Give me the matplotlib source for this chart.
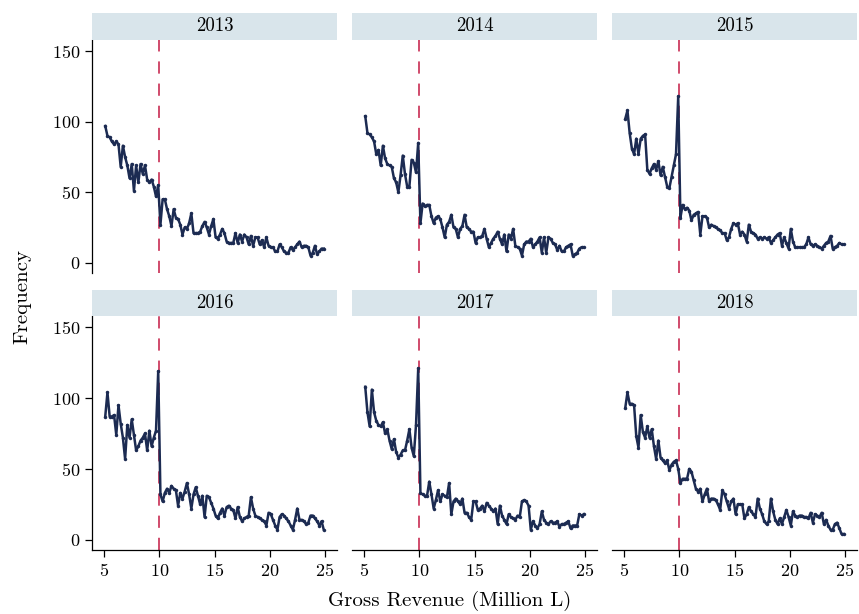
import numpy as np
import matplotlib
matplotlib.use("Agg")
import matplotlib.pyplot as plt
from matplotlib.patches import Rectangle

plt.rcParams["font.family"] = ["cmr10", "DejaVu Serif"]
plt.rcParams["mathtext.fontset"] = "cm"
plt.rcParams["axes.formatter.use_mathtext"] = True

# Bin midpoints of gross revenue (million L), 0.2-wide bins from 5 to 25
revenue = np.round(np.arange(5.1, 25.0, 0.2), 1)

years = [2013, 2014, 2015, 2016, 2017, 2018]

freq_2013 = [97, 90, 89, 86, 84, 86, 84, 68, 83, 75, 69, 60, 70, 51, 69, 57, 70, 63, 69, 59, 57, 59, 54, 47, 55,
             27, 45, 45, 38, 33, 26, 38, 32, 31, 27, 20, 25, 24, 28, 35, 21, 21, 21, 22, 26, 29, 25, 20, 26, 31,
             18, 17, 20, 24, 21, 15, 14, 14, 14, 21, 14, 20, 15, 20, 18, 13, 19, 12, 18, 18, 13, 16, 11, 18, 12,
             11, 11, 8, 8, 13, 11, 8, 7, 7, 11, 9, 11, 13, 15, 11, 12, 12, 11, 5, 7, 12, 6, 8, 10, 10]
freq_2014 = [104, 92, 91, 89, 86, 77, 80, 69, 83, 74, 70, 69, 68, 60, 57, 50, 62, 76, 63, 54, 54, 73, 71, 64, 85,
             28, 42, 40, 41, 41, 33, 28, 32, 33, 31, 25, 18, 27, 29, 34, 25, 24, 18, 24, 26, 34, 25, 24, 22, 22,
             14, 18, 18, 19, 24, 17, 11, 14, 17, 19, 22, 17, 13, 20, 8, 20, 17, 24, 12, 11, 10, 5, 13, 15, 15,
             17, 11, 13, 15, 18, 7, 18, 7, 18, 17, 14, 13, 9, 12, 8, 8, 11, 12, 13, 5, 6, 7, 10, 11, 11]
freq_2015 = [102, 108, 92, 81, 77, 88, 77, 88, 90, 91, 66, 63, 67, 70, 66, 72, 62, 68, 61, 54, 53, 61, 69, 77, 118,
             32, 41, 38, 39, 37, 30, 34, 35, 36, 20, 33, 33, 32, 25, 27, 26, 25, 24, 23, 21, 21, 16, 18, 24, 28,
             27, 28, 20, 22, 20, 15, 27, 22, 21, 20, 17, 18, 17, 18, 17, 18, 14, 16, 18, 20, 21, 12, 18, 14, 10,
             24, 15, 11, 11, 11, 11, 11, 13, 18, 13, 12, 13, 12, 11, 10, 12, 14, 15, 19, 10, 11, 12, 14, 13, 13]
freq_2016 = [87, 104, 87, 87, 88, 74, 95, 82, 72, 57, 81, 72, 85, 74, 63, 66, 70, 72, 75, 63, 77, 66, 72, 77, 119,
             32, 27, 33, 36, 33, 38, 36, 35, 24, 33, 29, 34, 40, 32, 22, 32, 37, 31, 25, 31, 16, 31, 30, 26, 22,
             17, 15, 19, 22, 17, 23, 24, 22, 21, 15, 23, 16, 13, 15, 16, 17, 30, 22, 17, 16, 15, 14, 13, 10, 19,
             18, 14, 10, 7, 16, 18, 17, 15, 13, 10, 7, 14, 22, 14, 14, 13, 11, 12, 17, 17, 15, 13, 10, 13, 7]
freq_2017 = [108, 90, 80, 106, 90, 84, 81, 80, 83, 75, 78, 70, 64, 71, 62, 58, 60, 63, 63, 70, 78, 65, 59, 81, 121,
             33, 32, 31, 31, 41, 32, 22, 28, 35, 27, 32, 31, 30, 40, 18, 27, 29, 27, 25, 29, 19, 19, 16, 14, 27,
             27, 21, 22, 24, 20, 26, 24, 22, 20, 22, 11, 24, 17, 14, 11, 18, 16, 15, 14, 17, 16, 27, 28, 27, 24,
             7, 13, 10, 8, 11, 20, 14, 12, 11, 13, 12, 12, 13, 9, 11, 11, 12, 13, 8, 10, 10, 10, 18, 17, 18]
freq_2018 = [93, 104, 96, 96, 95, 73, 65, 88, 76, 72, 80, 72, 78, 66, 57, 70, 58, 56, 54, 56, 49, 53, 55, 56, 50,
             40, 43, 43, 43, 50, 48, 42, 36, 34, 36, 27, 32, 36, 27, 29, 29, 28, 25, 21, 35, 32, 27, 22, 27, 29,
             18, 25, 25, 25, 15, 18, 23, 20, 18, 16, 29, 22, 18, 13, 11, 13, 29, 20, 14, 11, 15, 11, 16, 21, 16,
             10, 20, 17, 16, 17, 17, 16, 16, 15, 19, 12, 18, 17, 16, 19, 11, 14, 10, 7, 7, 11, 12, 8, 4, 4]

series = [freq_2013, freq_2014, freq_2015, freq_2016, freq_2017, freq_2018]

threshold = 10
x_ticks = [5, 10, 15, 20, 25]
y_ticks = [0, 50, 100, 150]

LINE_COLOR = "#1c2b52"
CUTOFF_COLOR = "#c41a44"
STRIP_COLOR = "#d9e5eb"

W, H = 859, 614
fig = plt.figure(figsize=(W / 100, H / 100), dpi=100)


def frac_rect(left, top, right, bottom):
    return [left / W, 1 - bottom / H, (right - left) / W, (bottom - top) / H]


col_left = [92, 352, 612]
panel_w = 245
row_span = [(40, 273), (316, 550)]
strip_span = [(13, 40), (290, 316)]

for k, (year, vals) in enumerate(zip(years, series)):
    r, c = divmod(k, 3)
    left = col_left[c]
    top, bottom = row_span[r]
    ax = fig.add_axes(frac_rect(left, top, left + panel_w, bottom))

    ax.axvline(threshold, color=CUTOFF_COLOR, lw=1.1, dashes=(8, 6.5), zorder=2)
    ax.plot(revenue, vals, color=LINE_COLOR, lw=1.8, marker="o", ms=2.5,
            markeredgewidth=0, zorder=3, solid_joinstyle="round")

    ax.set_xlim(3.9, 26.1)
    ax.set_ylim(-7.3, 158)
    ax.set_xticks(x_ticks)
    ax.set_yticks(y_ticks)
    for s in ("top", "right"):
        ax.spines[s].set_visible(False)
    ax.spines["left"].set_visible(c == 0)
    ax.spines["bottom"].set_visible(r == 1)
    for s in ("left", "bottom"):
        ax.spines[s].set_linewidth(0.9)
    ax.tick_params(axis="y", left=(c == 0), labelleft=(c == 0),
                   length=5, width=0.9, pad=3.5, labelsize=13)
    ax.tick_params(axis="x", bottom=(r == 1), labelbottom=(r == 1),
                   length=5, width=0.9, pad=4, labelsize=13)
    ax.set_facecolor("white")

    # facet strip with the year
    st, sb = strip_span[r]
    fig.patches.append(Rectangle((left / W, 1 - sb / H), panel_w / W, (sb - st) / H,
                                 transform=fig.transFigure, facecolor=STRIP_COLOR,
                                 edgecolor="none", zorder=0))
    fig.text((left + panel_w / 2) / W, 1 - ((st + sb) / 2) / H, str(year),
             ha="center", va="center", fontsize=13.5)

fig.text(22 / W, 1 - 296 / H, "Frequency", rotation=90, ha="center", va="center", fontsize=15)
fig.text(450 / W, 1 - 601 / H, "Gross Revenue (Million L)", ha="center", va="center", fontsize=15)

fig.savefig("out.png", dpi=100, facecolor="white")
